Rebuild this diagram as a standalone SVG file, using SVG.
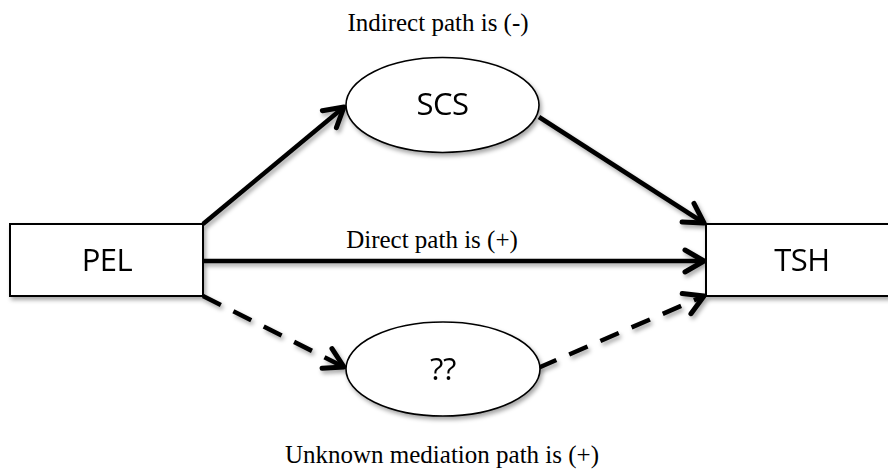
<svg xmlns="http://www.w3.org/2000/svg" width="888" height="470" viewBox="0 0 888 470">
  <style>
    .box { fill: #ffffff; stroke: #000000; stroke-width: 2; }
    .oval { fill: #ffffff; stroke: #000000; stroke-width: 1.6; }
    .node-label { font-family: "Open Sans", "Noto Sans", sans-serif; font-size: 31px; fill: #000000; text-anchor: middle; letter-spacing: -0.5px; }
    .path-label { font-family: "Liberation Serif", "Times New Roman", serif; font-size: 25px; fill: #000000; text-anchor: middle; }
    .edge { stroke: #000000; stroke-width: 4.5; fill: none; }
    .dashed { stroke-dasharray: 20 14; }
  </style>
  <defs>
    <filter id="shadow" x="-20%" y="-20%" width="140%" height="140%">
      <feDropShadow dx="2" dy="3" stdDeviation="2" flood-color="#000000" flood-opacity="0.35"/>
    </filter>
    <marker id="arrow" markerUnits="userSpaceOnUse" markerWidth="32" markerHeight="32" viewBox="-24 -16 32 32" refX="0" refY="0" orient="auto">
      <path d="M -19,-11 L 0,0 L -19,11" fill="none" stroke="#000000" stroke-width="5" stroke-linecap="round" stroke-linejoin="round"/>
    </marker>
  </defs>

  <rect width="888" height="470" fill="#ffffff"/>

  <!-- connectors -->
  <g id="connectors" filter="url(#shadow)">
    <line class="edge" x1="203" y1="224" x2="344" y2="107" marker-end="url(#arrow)"/>
    <line class="edge" x1="539" y1="117" x2="704" y2="223" marker-end="url(#arrow)"/>
    <line class="edge" x1="203" y1="261" x2="704" y2="261" marker-end="url(#arrow)"/>
    <line class="edge dashed" x1="203" y1="296" x2="344" y2="367" marker-end="url(#arrow)"/>
    <line class="edge dashed" x1="538" y1="368" x2="704" y2="296" marker-end="url(#arrow)"/>
  </g>

  <!-- nodes -->
  <g id="node-pel" filter="url(#shadow)">
    <rect class="box" x="10" y="224" width="193" height="72"/>
    <text class="node-label" x="107" y="271">PEL</text>
  </g>

  <g id="node-tsh" filter="url(#shadow)">
    <rect class="box" x="706" y="224" width="193" height="72"/>
    <text class="node-label" x="802" y="271">TSH</text>
  </g>

  <g id="node-scs" filter="url(#shadow)">
    <ellipse class="oval" cx="442.5" cy="105" rx="96.5" ry="47.5"/>
    <text class="node-label" x="442.5" y="115">SCS</text>
  </g>

  <g id="node-unknown" filter="url(#shadow)">
    <ellipse class="oval" cx="443" cy="369" rx="97" ry="47"/>
    <text class="node-label" x="443" y="380">??</text>
  </g>

  <!-- path annotations -->
  <g id="labels">
    <text class="path-label" x="438" y="31">Indirect path is (-)</text>
    <text class="path-label" x="432" y="248">Direct path is (+)</text>
    <text class="path-label" x="442" y="463">Unknown mediation path is (+)</text>
  </g>
</svg>
